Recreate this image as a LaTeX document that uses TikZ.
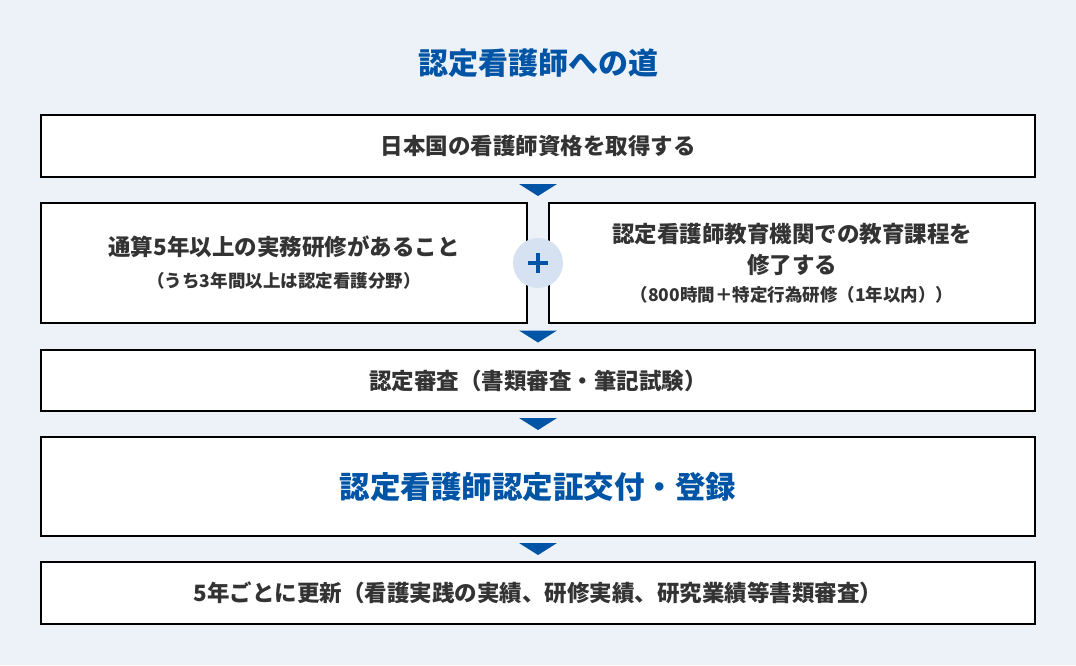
\documentclass[tikz,border=0pt]{standalone}
\usepackage{fontspec}
\setmainfont{Noto Sans CJK JP}
\usetikzlibrary{calc}
\definecolor{pagebg}{RGB}{237,242,249}
\definecolor{mainblue}{RGB}{0,84,166}
\definecolor{plusbg}{RGB}{214,226,241}
\definecolor{textgray}{RGB}{51,51,51}
\tikzset{
	stepbox/.style={draw=black, line width=2pt, fill=white, text=textgray, font=\bfseries\fontsize{22.5}{31}\selectfont, align=center, inner sep=0pt, minimum width=994pt, minimum height=#1},
	halfbox/.style={stepbox=120pt, minimum width=486pt},
	pluscirc/.style={circle, fill=plusbg, minimum size=50pt, inner sep=0pt},
	plusbar/.style={draw=mainblue, line width=4.5pt},
	downtri/.style={fill=mainblue}
}
\newcommand{\smalltxt}{\fontsize{17.5}{22}\selectfont}
\begin{document}
\begin{tikzpicture}[x=1pt,y=-1pt]
\fill[pagebg] (0,0) rectangle (1076,665);
\node[text=mainblue, font=\bfseries\fontsize{30}{36}\selectfont] (title) at (538,63) {認定看護師への道};
\node[stepbox=62pt] (b1) at (538,146) {日本国の看護師資格を取得する};
\node[halfbox] (b2a) at (284,263) {通算5年以上の実務研修があること\\[1pt]{\smalltxt （うち3年間以上は認定看護分野）}};
\node[halfbox] (b2b) at (792,263) {認定看護師教育機関での教育課程を\\修了する\\[-3pt]{\smalltxt （800時間＋特定行為研修（1年以内））}};
\node[stepbox=61pt] (b3) at (538,380.5) {認定審査（書類審査・筆記試験）};
\node[stepbox=99pt, text=mainblue, font=\bfseries\fontsize{30.5}{36}\selectfont] (b4) at (538,486.5) {認定看護師認定証交付・登録};
\node[stepbox=62pt] (b5) at (538,593) {5年ごとに更新（看護実践の実績、研修実績、研究業績等書類審査）};
% plus between the two conditions
\node[pluscirc] (plus) at ($(b2a.east)!.5!(b2b.west)$) {};
\draw[plusbar] (plus.center) +(-10,0) -- +(10,0) (plus.center) +(0,-10) -- +(0,10);
% down markers between the steps
\foreach \a/\b in {b1/b2a,b2a/b3,b3/b4,b4/b5}
	\fill[downtri] ($(b1.south|-\a.south)!.5!(b1.south|-\b.north)$) ++(-19,-6) -- ++(38,0) -- ++(-19,12) -- cycle;
\end{tikzpicture}
\end{document}
